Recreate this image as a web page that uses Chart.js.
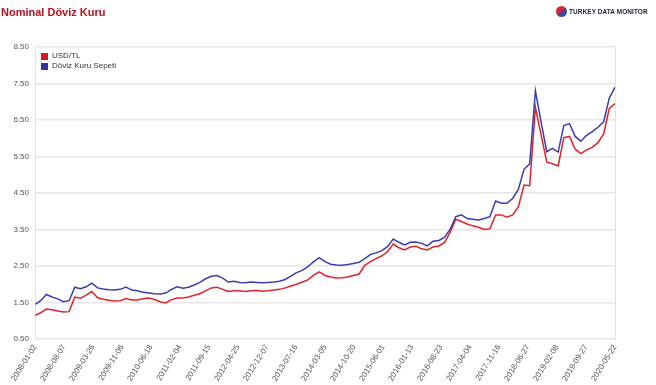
<!DOCTYPE html>
<html>
<head>
<meta charset="utf-8">
<script src="https://cdn.jsdelivr.net/npm/chart.js@4"></script>
<style>
  html, body { margin: 0; padding: 0; background: #fff; }
  #wrap { position: relative; width: 656px; height: 385px; overflow: hidden; font-family: "Liberation Sans", Arial, sans-serif; }
  #c { position: absolute; left: 0; top: 0; }
  #title { position: absolute; left: 1px; top: 6px; font-size: 11px; font-weight: bold; color: #b8141e; }
  #logo { position: absolute; left: 556px; top: 5px; height: 13px; display: flex; align-items: center; }
  #logo .dot { width: 11px; height: 11px; border-radius: 50%; background: linear-gradient(135deg, #d8262d 0 48%, #3b4aa8 52% 100%); margin-right: 2px; }
  #logo .txt { font-size: 7px; font-weight: bold; color: #1d2236; white-space: nowrap; transform: scaleX(0.92); transform-origin: left center; letter-spacing: 0.1px; }
  #legend { position: absolute; left: 41px; top: 51px; font-size: 8px; color: #333; line-height: 10px; }
  #legend .row { display: flex; align-items: center; height: 10px; }
  #legend .box { width: 7px; height: 7px; margin-right: 4px; }
</style>
</head>
<body>
<div id="wrap">
  <canvas id="c" width="656" height="385"></canvas>
  <div id="title">Nominal Döviz Kuru</div>
  <div id="logo"><div class="dot"></div><div class="txt">TURKEY DATA MONITOR</div></div>
  <div id="legend">
    <div class="row"><div class="box" style="background:#d9141c"></div>USD/TL</div>
    <div class="row"><div class="box" style="background:#3333a8"></div>Döviz Kuru Sepeti</div>
  </div>
</div>
<script>
// Tick labels shown on the x axis, evenly spaced from first to last sample
const tickLabels = ["2008-01-02","2008-08-07","2009-03-26","2009-11-06","2010-06-18","2011-02-04","2011-09-15","2012-04-25","2012-12-07","2013-07-16","2014-03-05","2014-10-20","2015-06-01","2016-01-13","2016-08-23","2017-04-04","2017-11-16","2018-06-27","2019-02-08","2019-09-27","2020-05-22"];

// USD/TL (evenly spaced samples)
const usdTL = [
  1.15,1.22,1.32,1.30,1.27,1.24,
  1.25,1.65,1.62,1.70,1.80,1.63,
  1.59,1.56,1.54,1.55,1.61,1.57,
  1.57,1.60,1.62,1.58,1.52,1.49,
  1.58,1.62,1.62,1.65,1.70,1.74,
  1.82,1.90,1.92,1.86,1.80,1.82,
  1.82,1.80,1.82,1.83,1.81,1.82,
  1.84,1.86,1.90,1.95,2.00,2.06,
  2.12,2.25,2.34,2.24,2.20,2.17,
  2.18,2.20,2.24,2.28,2.52,2.62,
  2.70,2.78,2.89,3.10,3.00,2.94,
  3.02,3.04,2.97,2.94,3.02,3.05,
  3.14,3.42,3.78,3.72,3.65,3.60,
  3.56,3.50,3.52,3.90,3.90,3.84,
  3.90,4.12,4.72,4.70,6.85,6.09,
  5.35,5.30,5.24,6.02,6.05,5.70,
  5.58,5.68,5.75,5.88,6.12,6.82,
  6.95
];
// Döviz Kuru Sepeti (same sample positions)
const sepet = [
  1.45,1.55,1.72,1.65,1.60,1.52,
  1.55,1.92,1.88,1.93,2.03,1.90,
  1.87,1.85,1.84,1.86,1.92,1.84,
  1.82,1.78,1.76,1.74,1.73,1.76,
  1.86,1.93,1.89,1.92,1.98,2.05,
  2.15,2.22,2.24,2.17,2.06,2.08,
  2.05,2.04,2.06,2.05,2.04,2.05,
  2.06,2.08,2.13,2.22,2.32,2.38,
  2.48,2.62,2.73,2.62,2.55,2.53,
  2.52,2.54,2.57,2.60,2.70,2.82,
  2.86,2.92,3.03,3.24,3.15,3.08,
  3.15,3.16,3.12,3.05,3.18,3.20,
  3.28,3.50,3.85,3.90,3.80,3.78,
  3.76,3.80,3.85,4.28,4.22,4.22,
  4.35,4.60,5.15,5.30,7.30,6.45,
  5.63,5.72,5.62,6.35,6.40,6.05,
  5.92,6.08,6.18,6.30,6.45,7.10,
  7.40
];
const lastIdx = usdTL.length - 1;
const toXY = (arr) => arr.map((v, i) => ({ x: i, y: v }));
const tickStep = lastIdx / (tickLabels.length - 1);

new Chart(document.getElementById('c'), {
  type: 'line',
  data: {
    datasets: [
      { label: 'Döviz Kuru Sepeti', data: toXY(sepet), borderColor: '#3c3cb0', borderWidth: 1.5, pointRadius: 0, tension: 0, fill: false },
      { label: 'USD/TL', data: toXY(usdTL), borderColor: '#e0232a', borderWidth: 1.5, pointRadius: 0, tension: 0, fill: false }
    ]
  },
  options: {
    responsive: false,
    animation: false,
    parsing: false,
    layout: { padding: { left: 0, top: 47, right: 41, bottom: 0 } },
    plugins: { legend: { display: false }, tooltip: { enabled: false } },
    scales: {
      x: {
        type: 'linear',
        min: 0, max: lastIdx,
        afterBuildTicks: (s) => { s.ticks = tickLabels.map((_, k) => ({ value: k * tickStep })); },
        grid: {
          drawTicks: false,
          color: (ctx) => (ctx.index === 0 || ctx.index === tickLabels.length - 1) ? '#e2e2e2' : 'rgba(0,0,0,0)'
        },
        border: { display: false },
        ticks: {
          autoSkip: false,
          minRotation: 58, maxRotation: 58,
          padding: 4,
          font: { family: 'Liberation Sans', size: 8 },
          color: '#555',
          callback: (v, i) => tickLabels[i]
        },
        afterFit: (s) => { s.height = 46; }
      },
      y: {
        min: 0.5, max: 8.5,
        grid: { color: '#e6e6e6', drawTicks: false, lineWidth: 1.5 },
        border: { display: true, color: '#e2e2e2' },
        ticks: {
          stepSize: 1,
          padding: 6,
          font: { family: 'Liberation Sans', size: 8 },
          color: '#555',
          callback: (v) => Number(v).toFixed(2)
        },
        afterFit: (s) => { s.width = 35; }
      }
    }
  }
});
</script>
</body>
</html>
